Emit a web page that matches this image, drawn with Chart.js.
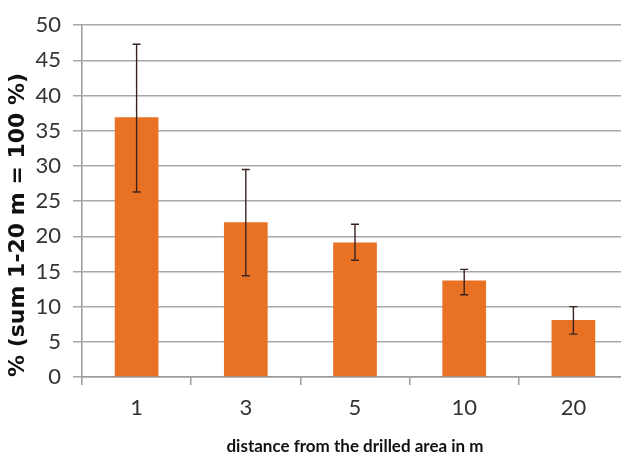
<!DOCTYPE html>
<html>
<head>
<meta charset="utf-8">
<script src="https://cdn.jsdelivr.net/npm/chart.js@4/dist/chart.umd.min.js"></script>
<style>
  html, body { margin: 0; padding: 0; background: #fff; overflow: hidden; }
  #wrap { width: 634px; height: 458px; }
</style>
</head>
<body>
<div id="wrap"><canvas id="distChart"></canvas></div>
<script>
// distance categories (m) and share of holes per distance
var distances = ['1', '3', '5', '10', '20'];
var shares = [36.9, 22.0, 19.1, 13.7, 8.1];
var errLow = [26.3, 14.4, 16.6, 11.7, 6.1];
var errHigh = [47.3, 29.5, 21.7, 15.3, 10.0];
var yTicks = [0, 5, 10, 15, 20, 25, 30, 35, 40, 45, 50];

// draws the min/max whiskers on top of the bars
var errorBars = {
    id: 'errorBars',
    afterDatasetsDraw: function(chart) {
        var ctx = chart.ctx;
        var x = chart.scales.x, y = chart.scales.y;
        ctx.save();
        ctx.strokeStyle = '#3b2420';
        ctx.lineWidth = 1.4;
        for (var i = 0; i < shares.length; i++) {
            var px = x.getPixelForValue(i);
            var top = y.getPixelForValue(errHigh[i]);
            var bot = y.getPixelForValue(errLow[i]);
            ctx.beginPath();
            ctx.moveTo(px, top); ctx.lineTo(px, bot);
            ctx.moveTo(px - 4, top); ctx.lineTo(px + 4, top);
            ctx.moveTo(px - 4, bot); ctx.lineTo(px + 4, bot);
            ctx.stroke();
        }
        ctx.restore();
    }
};

var ctx = document.getElementById('distChart').getContext('2d');
var chart = new Chart(ctx, {
    type: 'bar',
    data: {
        labels: distances,
        datasets: [{
            data: shares,
            backgroundColor: '#e97124',
            borderWidth: 0,
            categoryPercentage: 1,
            barPercentage: 0.4
        }]
    },
    options: {
        responsive: true,
        maintainAspectRatio: false,
        animation: false,
        layout: { padding: { top: 24, right: 6, bottom: 0, left: 0 } },
        plugins: { legend: { display: false }, tooltip: { enabled: false } },
        scales: {
            x: {
                afterFit: function(s) { s.height = 81; },
                grid: { drawOnChartArea: false, drawTicks: true, tickLength: 8, color: '#9a9a9a', lineWidth: 1.5 },
                border: { color: '#9a9a9a', width: 1.5 },
                ticks: { color: '#333', padding: 10, font: { family: 'Lato', size: 22 } },
                title: {
                    display: true,
                    text: 'distance from the drilled area in m',
                    color: '#111',
                    font: { family: 'Lato', size: 17, weight: 'bold' },
                    padding: { top: 0, bottom: 1 }
                }
            },
            y: {
                min: 0,
                max: 50,
                afterFit: function(s) { s.width = 82; },
                afterBuildTicks: function(s) { s.ticks = yTicks.map(function(v) { return { value: v }; }); },
                grid: { color: '#a8a8a8', lineWidth: 1.5, tickLength: 9 },
                border: { color: '#9a9a9a', width: 1.5 },
                ticks: { color: '#333', padding: 12, font: { family: 'Lato', size: 22 } },
                title: {
                    display: true,
                    align: 'start',
                    text: '% (sum 1-20 m = 100 %)',
                    color: '#111',
                    font: { family: 'DejaVu Sans', size: 22, weight: 'bold' },
                    padding: { top: 5, bottom: 0 }
                }
            }
        }
    },
    plugins: [errorBars]
});
</script>
</body>
</html>
